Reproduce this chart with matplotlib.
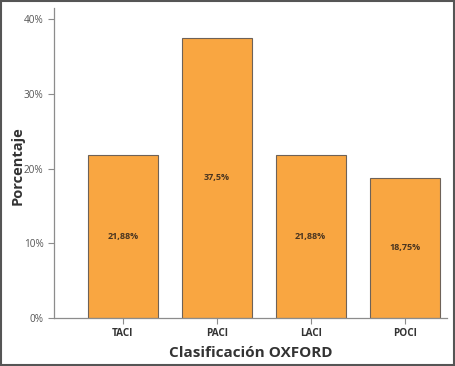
import matplotlib
matplotlib.use("Agg")
import matplotlib.pyplot as plt
from matplotlib.patches import Rectangle

categories = ["TACI", "PACI", "LACI", "POCI"]
values = [21.88, 37.5, 21.88, 18.75]
labels = ["21,88%", "37,5%", "21,88%", "18,75%"]
yticks = [0, 10, 20, 30, 40]
ytick_labels = ["0%", "10%", "20%", "30%", "40%"]

plt.rcParams['font.family'] = ['Open Sans', 'DejaVu Sans']

W, H = 455, 366
fig = plt.figure(figsize=(W/100, H/100), dpi=100)
ax = fig.add_axes([54/W, 1-318/H, (447-54)/W, (318-8)/H])

x = list(range(len(categories)))
ax.bar(x, values, width=0.745, color="#F9A641", edgecolor="#6e6258", linewidth=0.8)
for xi, v, lab in zip(x, values, labels):
    ax.text(xi, v/2, lab, ha="center", va="center", fontsize=6.5,
            fontweight="bold", color="#4a3520")

ax.set_xlim(-0.734, 3.452)
ax.set_ylim(0, 41.5)
ax.set_yticks(yticks)
ax.set_yticklabels(ytick_labels)
ax.set_xticks(x)
ax.set_xticklabels(categories, fontweight="bold")
for s in ["top", "right"]:
    ax.spines[s].set_visible(False)
for s in ["left", "bottom"]:
    ax.spines[s].set_color("#8c8c8c")
    ax.spines[s].set_linewidth(0.9)
ax.tick_params(axis="y", colors="#8c8c8c", labelcolor="#555555", labelsize=7.2, length=4, width=0.8)
ax.tick_params(axis="x", colors="#8c8c8c", labelcolor="#333333", labelsize=7.2, length=4, width=0.8)

ax.set_ylabel("Porcentaje", fontsize=10.5, fontweight="bold", color="#333333")
ax.yaxis.set_label_coords((25-54)/393, 0.49)
ax.set_xlabel("Clasificación OXFORD", fontsize=11, fontweight="bold", color="#333333")
ax.xaxis.set_label_coords(0.5, (318-346)/310)

fig.patches.append(Rectangle((1/W, 1/H), 1-2/W, 1-2/H, transform=fig.transFigure,
                             fill=False, edgecolor="#555555", linewidth=1.5))

fig.savefig("out.png", dpi=100)
